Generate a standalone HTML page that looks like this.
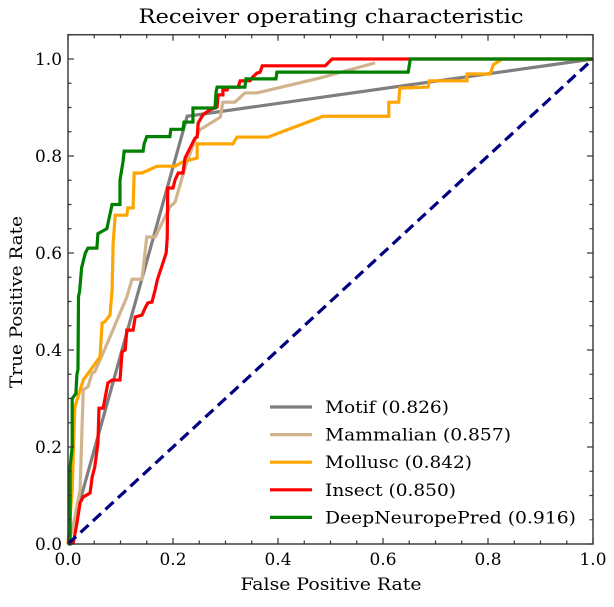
<!DOCTYPE html>
<html><head><meta charset="utf-8"><style>
body{margin:0;background:#fff}
svg text{fill:#000}
</style></head><body>
<svg id="c" width="614" height="602" xmlns="http://www.w3.org/2000/svg">
<text x="331" y="23" text-anchor="middle" font-family="DejaVu Serif, serif" font-size="20" textLength="385" lengthAdjust="spacingAndGlyphs">Receiver operating characteristic</text>
<text x="331" y="590" text-anchor="middle" font-family="DejaVu Serif, serif" font-size="17" textLength="181" lengthAdjust="spacingAndGlyphs">False Positive Rate</text>
<text transform="translate(22,302) rotate(-90)" text-anchor="middle" font-family="DejaVu Serif, serif" font-size="17" textLength="172" lengthAdjust="spacingAndGlyphs">True Positive Rate</text>
<g id="plot"></g>
</svg>
<script>
const seriesNames=["Motif (0.826)","Mammalian (0.857)","Mollusc (0.842)","Insect (0.850)","DeepNeuropePred (0.916)"];
const seriesColors=["#7f7f7f","#d2b48c","#ffa500","#ff0000","#008000"];
const legendWidths=[124,186,147,131,251];
const motif=[[0,0],[0.227,0.882],[1,1]];
const mammalian=[[0,0],[.008,.029],[.023,.111],[.029,.318],[.038,.324],[.046,.353],[.051,.355],[.067,.394],[.112,.509],[.122,.546],[.141,.546],[.15,.633],[.166,.633],[.194,.695],[.204,.705],[.223,.777],[.242,.833],[.251,.854],[.29,.88],[.295,.911],[.318,.911],[.337,.93],[.36,.93],[.48,.961],[.585,.992]];
const mollusc=[[0,0],[.008,.111],[.013,.282],[.029,.338],[.061,.386],[.065,.456],[.07,.458],[.08,.472],[.084,.524],[.086,.621],[.09,.678],[.112,.678],[.114,.693],[.124,.693],[.126,.765],[.141,.765],[.17,.779],[.204,.779],[.219,.788],[.246,.796],[.246,.825],[.314,.825],[.322,.839],[.381,.839],[.486,.882],[.611,.882],[.611,.911],[.63,.911],[.632,.94],[.686,.942],[.688,.955],[.76,.955],[.76,.969],[.804,.969],[.81,.988],[.827,1],[1,1]];
const insect=[[0,0],[.01,.002],[.017,.043],[.023,.085],[.029,.097],[.042,.105],[.046,.138],[.051,.159],[.057,.208],[.059,.28],[.067,.28],[.076,.332],[.084,.338],[.099,.338],[.103,.396],[.109,.4],[.112,.441],[.124,.441],[.128,.468],[.141,.472],[.147,.487],[.152,.497],[.16,.499],[.166,.524],[.17,.544],[.187,.6],[.189,.631],[.19,.734],[.2,.734],[.204,.751],[.21,.765],[.219,.765],[.223,.796],[.242,.837],[.246,.839],[.248,.868],[.257,.885],[.27,.895],[.284,.901],[.286,.926],[.295,.926],[.295,.936],[.303,.936],[.305,.942],[.324,.942],[.328,.955],[.347,.955],[.352,.963],[.36,.971],[.366,.973],[.37,.986],[.49,.986],[.503,1],[1,1]];
const deep=[[0,0],[.004,0],[.004,.16],[.008,.2],[.008,.30],[.015,.31],[.017,.35],[.019,.36],[.02,.51],[.022,.52],[.026,.57],[.033,.6],[.038,.61],[.055,.61],[.057,.64],[.074,.65],[.08,.68],[.084,.7],[.099,.7],[.099,.75],[.105,.79],[.107,.81],[.143,.81],[.145,.825],[.15,.84],[.194,.84],[.196,.855],[.219,.855],[.221,.87],[.238,.87],[.238,.899],[.28,.899],[.282,.932],[.284,.942],[.337,.942],[.339,.959],[.396,.959],[.398,.973],[.648,.973],[.652,1],[1,1]];
const allSeries=[motif,mammalian,mollusc,insect,deep];
const tickLabels=["0.0","0.2","0.4","0.6","0.8","1.0"];
const YMAX=1.05;
const X0=68,X1=593,Y0=544,Y1=59;
const sx=v=>X0+v*(X1-X0), sy=v=>Y0-v*(Y0-Y1);
const YT=sy(YMAX);
const NS="http://www.w3.org/2000/svg";
const g=document.getElementById('plot');
function mk(t,a,p){const e=document.createElementNS(NS,t);for(const k in a)e.setAttribute(k,a[k]);(p||g).appendChild(e);return e;}
allSeries.forEach((s,i)=>{
 const p=mk('polyline',{points:s.map(d=>sx(d[0])+','+sy(d[1])).join(' '),fill:'none',stroke:seriesColors[i],'stroke-width':3.2,'stroke-linejoin':'miter','stroke-linecap':'butt'});
 
 
});
const diag=mk('line',{x1:sx(0),y1:sy(0),x2:sx(1),y2:sy(1),stroke:'#000080','stroke-width':3.2,'stroke-dasharray':'11,6'});


const fr=mk('rect',{x:X0,y:YT,width:X1-X0,height:Y0-YT,fill:'none',stroke:'#333','stroke-width':1.4});


for(let k=0;k<=20;k++){
 const v=k/20, L=(k%4==0)?6:3.5;
 mk('line',{x1:sx(v),y1:Y0,x2:sx(v),y2:Y0-L,stroke:'#333','stroke-width':1.2});
 mk('line',{x1:sx(v),y1:YT,x2:sx(v),y2:YT+L,stroke:'#333','stroke-width':1.2});
}
for(let k=0;k<=21;k++){
 const v=k/20, L=(k%4==0)?6:3.5;
 mk('line',{x1:X0,y1:sy(v),x2:X0+L,y2:sy(v),stroke:'#333','stroke-width':1.2});
 mk('line',{x1:X1,y1:sy(v),x2:X1-L,y2:sy(v),stroke:'#333','stroke-width':1.2});
}
tickLabels.forEach((t,i)=>{
 const v=i/5;
 const a=mk('text',{x:sx(v),y:Y0+21,'text-anchor':'middle','font-family':'DejaVu Serif, serif','font-size':17,textLength:27,lengthAdjust:'spacingAndGlyphs'});
 a.textContent=t;
 
 
 const b=mk('text',{x:X0-6,y:sy(v)+6,'text-anchor':'end','font-family':'DejaVu Serif, serif','font-size':17,textLength:27,lengthAdjust:'spacingAndGlyphs'});
 b.textContent=t;
 
 
});
seriesNames.forEach((n,i)=>{
 const y=407+i*27.6;
 const l=mk('line',{x1:270,y1:y,x2:312,y2:y,stroke:seriesColors[i],'stroke-width':3.2});
 
 
 const t=mk('text',{x:325,y:y+6,'font-family':'DejaVu Serif, serif','font-size':17,textLength:legendWidths[i],lengthAdjust:'spacingAndGlyphs'});
 t.textContent=n;
 
 
});
</script>
</body></html>
